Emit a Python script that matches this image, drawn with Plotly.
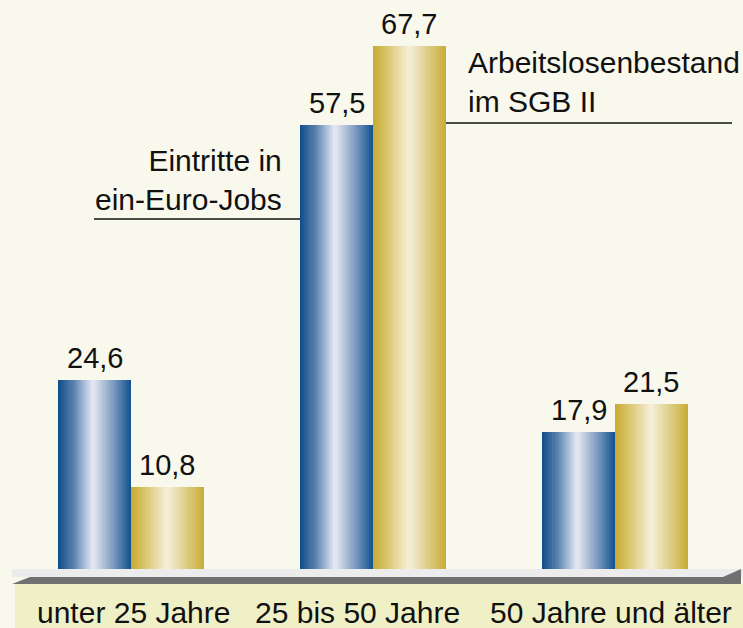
import plotly.graph_objects as go
import numpy as np

# ---- data ----
categories = ["unter 25 Jahre", "25 bis 50 Jahre", "50 Jahre und älter"]
eintritte = [24.6, 57.5, 17.9]          # Eintritte in ein-Euro-Jobs
bestand = [10.8, 67.7, 21.5]            # Arbeitslosenbestand im SGB II
value_labels_e = ["24,6", "57,5", "17,9"]
value_labels_b = ["10,8", "67,7", "21,5"]
series_names = ["Eintritte in<br>ein-Euro-Jobs", "Arbeitslosenbestand<br>im SGB II"]

# ---- styling ----
W, H = 743, 628
BASE = 571          # pixel row of the value axis zero
BG = "#f8f8ec"
FONT = "Liberation Sans, Arial, sans-serif"
blue_stops = [(0.0, (11, 76, 136)), (0.2, (88, 128, 174)), (0.47, (232, 234, 244)),
              (0.75, (127, 156, 194)), (1.0, (15, 81, 144))]
gold_stops = [(0.0, (198, 170, 48)), (0.22, (220, 200, 120)), (0.5, (246, 240, 218)),
              (0.78, (220, 203, 128)), (1.0, (198, 171, 52))]

def interp(stops, t):
    for (t0, c0), (t1, c1) in zip(stops[:-1], stops[1:]):
        if t0 <= t <= t1:
            f = (t - t0) / (t1 - t0) if t1 > t0 else 0
            c = [round(a + (b - a) * f) for a, b in zip(c0, c1)]
            return "rgb(%d,%d,%d)" % tuple(c)
    return "rgb(%d,%d,%d)" % stops[-1][1]

def px(xp):
    return xp / W

def py(yp):
    return (BASE - yp) / BASE

x = np.arange(len(categories))
bw = 0.30      # width of one bar in category units
N = 36         # gradient strips per bar
step = bw / N

fig = go.Figure()
for vals, stops, start in [(eintritte, blue_stops, -bw), (bestand, gold_stops, 0.0)]:
    for k in range(N):
        t = (k + 0.5) / N
        w = step * (1.7 if k < N - 1 else 1.0)
        fig.add_trace(go.Bar(
            x=x, y=vals, width=w, offset=start + k * step,
            marker=dict(color=interp(stops, t), line=dict(width=0)),
            showlegend=False, hoverinfo="skip"))

# value labels
ann = []
for i in range(len(categories)):
    ann.append(dict(x=x[i] - bw / 2, y=eintritte[i], text=value_labels_e[i], showarrow=False,
                    yanchor="bottom", yshift=4, font=dict(size=29, color="#111", family=FONT)))
    ann.append(dict(x=x[i] + bw / 2, y=bestand[i], text=value_labels_b[i], showarrow=False,
                    yanchor="bottom", yshift=4, font=dict(size=29, color="#111", family=FONT)))

# category labels
label_shift = [2, -16, -4]
for i, c in enumerate(categories):
    ann.append(dict(x=x[i], y=py(612), yref="paper", text=c, showarrow=False, xanchor="center",
                    yanchor="middle", xshift=label_shift[i],
                    font=dict(size=30, color="#111", family=FONT)))

# series callouts
ann.append(dict(x=px(284), y=py(180), xref="paper", yref="paper", text=series_names[0],
                showarrow=False, xanchor="right", yanchor="middle", align="right",
                font=dict(size=30, color="#111", family=FONT)))
ann.append(dict(x=px(466), y=py(82), xref="paper", yref="paper", text=series_names[1],
                showarrow=False, xanchor="left", yanchor="middle", align="left",
                font=dict(size=30, color="#111", family=FONT)))

shapes = [
    # callout lines
    dict(type="line", xref="paper", yref="paper", x0=px(94), x1=px(300), y0=py(219), y1=py(219),
         line=dict(color="#111", width=1.5)),
    dict(type="line", xref="paper", yref="paper", x0=px(446), x1=px(732), y0=py(123), y1=py(123),
         line=dict(color="#111", width=1.5)),
    # label band
    dict(type="rect", xref="paper", yref="paper", x0=px(15), x1=1, y0=py(H), y1=py(584),
         fillcolor="#f0f0c6", line=dict(width=0), layer="below"),
    # floor top
    dict(type="rect", xref="paper", yref="paper", x0=px(12), x1=1, y0=py(577), y1=py(569),
         fillcolor="#ececec", line=dict(width=0), layer="above"),
    # floor front
    dict(type="path", xref="paper", yref="paper",
         path="M %f,%f L %f,%f L %f,%f L %f,%f L %f,%f Z" % (
             px(12), py(584), px(30), py(577), px(723), py(577),
             px(741), py(569), px(741), py(584)),
         fillcolor="#707070", line=dict(width=0), layer="above"),
]

cat_center_px = 131
spacing_px = 242
fig.update_layout(
    width=W, height=H,
    margin=dict(l=0, r=0, t=0, b=H - BASE, pad=0),
    paper_bgcolor=BG, plot_bgcolor=BG,
    barmode="overlay", bargap=0,
    xaxis=dict(range=[-cat_center_px / spacing_px, (W - cat_center_px) / spacing_px],
               showgrid=False, zeroline=False, showticklabels=False, ticks="", fixedrange=True),
    yaxis=dict(range=[0, BASE / 7.75], showgrid=False, zeroline=False, showticklabels=False,
               ticks="", fixedrange=True),
    annotations=ann, shapes=shapes, showlegend=False,
)
fig.write_html("out.html", post_script="document.body.style.margin='0';",
               config={"displayModeBar": False})
